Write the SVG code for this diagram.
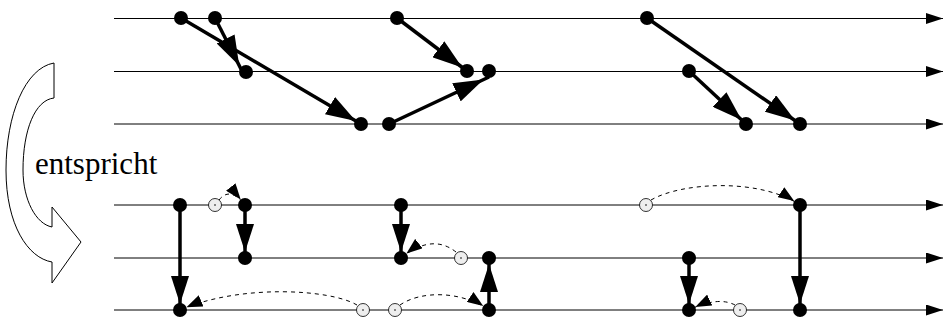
<svg xmlns="http://www.w3.org/2000/svg" width="944" height="320" viewBox="0 0 944 320">
  <style>
    .tl { stroke: #000; stroke-width: 1; fill: none; }
    .arr { stroke: #000; stroke-width: 3.5; fill: none; }
    .dash { stroke: #000; stroke-width: 1; fill: none; stroke-dasharray: 4 4; }
    .dot { fill: #000; }
    .ghost { fill: #eee; stroke: #000; stroke-width: 0.8; }
    .ghostc { fill: #000; }
    .bend { fill: #fff; stroke: #000; stroke-width: 1; }
  </style>
  <defs>
    <marker id="big" viewBox="0 0 30 20" markerWidth="30" markerHeight="20" refX="36" refY="10" orient="auto" markerUnits="userSpaceOnUse">
      <path d="M0,0 L30,10 L0,20 Z" fill="#000"/>
    </marker>
    <marker id="mid" viewBox="0 0 28 18" markerWidth="28" markerHeight="18" refX="34" refY="9" orient="auto" markerUnits="userSpaceOnUse">
      <path d="M0,0 L28,9 L0,18 Z" fill="#000"/>
    </marker>
    <marker id="small" viewBox="0 0 16 12" markerWidth="16" markerHeight="12" refX="23" refY="6" orient="auto" markerUnits="userSpaceOnUse">
      <path d="M0,0 L16,6 L0,12 Z" fill="#000"/>
    </marker>
    <marker id="axis" viewBox="0 0 17 11" markerWidth="17" markerHeight="11" refX="17" refY="5.5" orient="auto" markerUnits="userSpaceOnUse">
      <path d="M0,0 L17,5.5 L0,11 Z" fill="#000"/>
    </marker>
  </defs>

  <g id="timelines">
    <line class="tl" x1="114" y1="18.5" x2="943" y2="18.5" marker-end="url(#axis)"/>
    <line class="tl" x1="114" y1="71.5" x2="943" y2="71.5" marker-end="url(#axis)"/>
    <line class="tl" x1="114" y1="124" x2="943" y2="124" marker-end="url(#axis)"/>
    <line class="tl" x1="114" y1="205" x2="943" y2="205" marker-end="url(#axis)"/>
    <line class="tl" x1="114" y1="258" x2="943" y2="258" marker-end="url(#axis)"/>
    <line class="tl" x1="114" y1="310" x2="943" y2="310" marker-end="url(#axis)"/>
  </g>

  <g id="equivalence">
    <path class="bend" d="M54,63 C25,68 6,115 6,170 C6,225 28,258 52,262 L52,283 L81,242 L52,207 L52,227 C36,224 23,200 23,170 C23,130 35,100 54,98 Z"/>
    <text x="35" y="174" font-family="'Liberation Serif', 'Times New Roman', serif" font-size="31" fill="#000">entspricht</text>
  </g>

  <g id="connectors">
    <!-- top -->
    <line class="arr" x1="181" y1="18" x2="361" y2="124" marker-end="url(#big)"/>
    <line class="arr" x1="215" y1="18" x2="242" y2="71" marker-end="url(#big)"/>
    <line class="arr" x1="397" y1="18" x2="467" y2="71" marker-end="url(#big)"/>
    <line class="arr" x1="389" y1="124" x2="489" y2="77" marker-end="url(#big)"/>
    <line class="arr" x1="647" y1="18" x2="800" y2="124" marker-end="url(#big)"/>
    <line class="arr" x1="689" y1="71" x2="746" y2="124" marker-end="url(#big)"/>
    <!-- bottom solid -->
    <line class="arr" x1="180" y1="205" x2="180" y2="310" marker-end="url(#mid)"/>
    <line class="arr" x1="245" y1="205" x2="245" y2="258" marker-end="url(#mid)"/>
    <line class="arr" x1="401" y1="205" x2="401" y2="258" marker-end="url(#mid)"/>
    <line class="arr" x1="489" y1="310" x2="489" y2="258" marker-end="url(#mid)"/>
    <line class="arr" x1="689" y1="258" x2="689" y2="310" marker-end="url(#mid)"/>
    <line class="arr" x1="800" y1="205" x2="800" y2="310" marker-end="url(#mid)"/>
    <!-- bottom dashed -->
    <path class="dash" d="M219,200 Q230,186 245,205" marker-end="url(#small)"/>
    <path class="dash" d="M456,252 Q432,233 401,258" marker-end="url(#small)"/>
    <path class="dash" d="M357,305 C330,289 240,284 180,310" marker-end="url(#small)"/>
    <path class="dash" d="M400,305 C420,291 460,290 489,310" marker-end="url(#small)"/>
    <path class="dash" d="M651,200 C682,182 760,178 800,205" marker-end="url(#small)"/>
    <path class="dash" d="M735,305 Q718,296 689,310" marker-end="url(#small)"/>
  </g>

  <g id="t1"><circle class="dot" cx="181" cy="18" r="7"/></g>
  <g id="t2"><circle class="dot" cx="215" cy="18" r="7"/></g>
  <g id="t3"><circle class="dot" cx="246" cy="72" r="7"/></g>
  <g id="t4"><circle class="dot" cx="361" cy="124" r="7"/></g>
  <g id="t5"><circle class="dot" cx="389" cy="124" r="7"/></g>
  <g id="t6"><circle class="dot" cx="397" cy="18" r="7"/></g>
  <g id="t7"><circle class="dot" cx="467" cy="71" r="7"/></g>
  <g id="t8"><circle class="dot" cx="489" cy="71" r="7"/></g>
  <g id="t9"><circle class="dot" cx="647" cy="18" r="7"/></g>
  <g id="t10"><circle class="dot" cx="689" cy="71" r="7"/></g>
  <g id="t11"><circle class="dot" cx="746" cy="124" r="7"/></g>
  <g id="t12"><circle class="dot" cx="800" cy="124" r="7"/></g>

  <g id="b1"><circle class="dot" cx="180" cy="205" r="7"/></g>
  <g id="b2"><circle class="dot" cx="180" cy="310" r="7"/></g>
  <g id="b3"><circle class="dot" cx="245" cy="205" r="7"/></g>
  <g id="b4"><circle class="dot" cx="245" cy="258" r="7"/></g>
  <g id="b5"><circle class="dot" cx="401" cy="205" r="7"/></g>
  <g id="b6"><circle class="dot" cx="401" cy="258" r="7"/></g>
  <g id="b7"><circle class="dot" cx="489" cy="258" r="7"/></g>
  <g id="b8"><circle class="dot" cx="489" cy="310" r="7"/></g>
  <g id="b9"><circle class="dot" cx="689" cy="258" r="7"/></g>
  <g id="b10"><circle class="dot" cx="689" cy="310" r="7"/></g>
  <g id="b11"><circle class="dot" cx="800" cy="205" r="7"/></g>
  <g id="b12"><circle class="dot" cx="800" cy="310" r="7"/></g>

  <g id="g1"><circle class="ghost" cx="215" cy="205" r="6.5"/><circle class="ghostc" cx="215" cy="205" r="0.8"/></g>
  <g id="g2"><circle class="ghost" cx="461" cy="258" r="6.5"/><circle class="ghostc" cx="461" cy="258" r="0.8"/></g>
  <g id="g3"><circle class="ghost" cx="363" cy="310" r="6.5"/><circle class="ghostc" cx="363" cy="310" r="0.8"/></g>
  <g id="g4"><circle class="ghost" cx="395" cy="310" r="6.5"/><circle class="ghostc" cx="395" cy="310" r="0.8"/></g>
  <g id="g5"><circle class="ghost" cx="646" cy="205" r="6.5"/><circle class="ghostc" cx="646" cy="205" r="0.8"/></g>
  <g id="g6"><circle class="ghost" cx="740" cy="310" r="6.5"/><circle class="ghostc" cx="740" cy="310" r="0.8"/></g>
</svg>
